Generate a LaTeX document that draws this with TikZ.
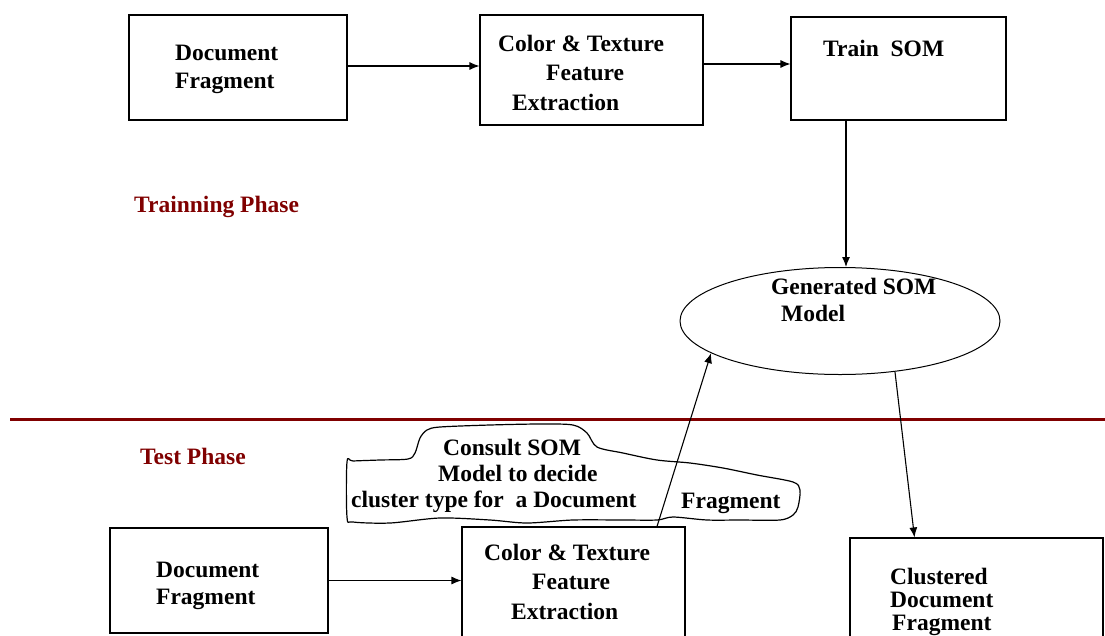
\documentclass[tikz,border=0pt]{standalone}
\usepackage{fontspec}
\setmainfont{Liberation Serif}
\usetikzlibrary{shapes.geometric,arrows.meta}
\definecolor{phasered}{RGB}{128,0,0}
\begin{document}
\begin{tikzpicture}[x=1pt,y=-1pt,
  box/.style={draw=black, line width=1.1pt, rectangle, inner sep=0pt},
  lbl/.style={font=\fontsize{23.5}{28}\selectfont\bfseries, anchor=base west, inner sep=0pt},
  phase/.style={lbl, text=phasered},
  arr/.style={line width=1.1pt, -{Latex[length=10pt,width=8pt]}}]
\useasboundingbox (0,0) rectangle (1105,635);
\clip (0,0) rectangle (1105,635);
\fill[white] (0,0) rectangle (1105,635);

% ---- training row ----
\node[box, minimum width=218, minimum height=105] (tdoc)  at (238,67.5) {};
\node[box, minimum width=223, minimum height=110] (tfeat) at (591.5,70) {};
\node[box, minimum width=215, minimum height=103] (tsom)  at (898.5,68.5) {};

\node[lbl] (tdoc1) at (175,60) {Document};
\node[lbl] (tdoc2) at (175,88) {Fragment};
\node[lbl] (tfeat1) at (498,51) {Color \& Texture};
\node[lbl] (tfeat2) at (546,80) {Feature};
\node[lbl] (tfeat3) at (512,110) {Extraction};
\node[lbl] (tsom1) at (823,56) {Train\ \ SOM};

% ---- model ----
\node[draw=black, line width=1pt, ellipse, inner sep=0pt,
      minimum width=320, minimum height=107] (ell) at (840,321) {};
\node[lbl] (ell1) at (771,294) {Generated SOM};
\node[lbl] (ell2) at (781,321) {Model};

% ---- phase labels and divider ----
\node[phase] (trainph) at (134,212) {Trainning Phase};
\node[phase] (testph) at (140,464) {Test Phase};
\coordinate (divL) at (10,419);
\coordinate (divR) at (1105,419);
\draw[phasered, line width=3pt] (divL) -- (divR);

% ---- test row ----
\node[box, minimum width=218, minimum height=105] (bdoc)  at (219,580.5) {};
\node[box, minimum width=223, minimum height=123] (bfeat) at (573.5,588.5) {};
\node[box, minimum width=253, minimum height=122] (clus)  at (976.5,599) {};

\node[lbl] (bdoc1) at (156,577) {Document};
\node[lbl] (bdoc2) at (156,604) {Fragment};
\node[lbl] (bfeat1) at (484,560) {Color \& Texture};
\node[lbl] (bfeat2) at (532,589) {Feature};
\node[lbl] (bfeat3) at (511,619) {Extraction};
\node[lbl] (clus1) at (890,584) {Clustered};
\node[lbl] (clus2) at (890,607) {Document};
\node[lbl] (clus3) at (892,630) {Fragment};

% ---- hand-drawn callout ----
\draw[line width=1.2pt, line join=round]
  plot[smooth cycle, tension=0.5] coordinates {
    (347,462) (347,517) (353,522) (390,523) (440,518) (490,520) (527,523)
    (573,520) (623,520) (657,520) (673,517) (707,520) (740,520) (780,520)
    (793,515) (798,507) (800,490) (793,482) (757,475) (723,468) (690,463)
    (657,460) (623,453) (597,447) (587,433) (573,425) (540,424) (490,425)
    (440,427) (427,430) (420,438) (415,453) (408,459) (380,460) (353,461)};
\node[lbl] (call1) at (443,455) {Consult SOM};
\node[lbl] (call2) at (438,481) {Model to decide};
\node[lbl] (call3) at (351,507) {cluster type for\ \ a Document};
\node[lbl] (call4) at (681,508) {Fragment};

% ---- connectors ----
\draw[arr] ([yshift=1.5pt]tdoc.east) -- ([yshift=1.5pt]tdoc.east -| tfeat.west);
\draw[arr] ([yshift=6pt]tfeat.east) -- ([yshift=6pt]tfeat.east -| tsom.west);
\draw[arr] ([xshift=-52.5pt]tsom.south) -- ([xshift=-52.5pt]tsom.south |- ell.north);
\draw[arr] (bdoc.east) -- (bdoc.east -| bfeat.west);
\draw[arr] ([xshift=83.5pt]bfeat.north) -- (ell.194);
\draw[arr] ([xshift=55pt,yshift=3pt]ell.south) -- ([xshift=-62pt]clus.north);
\end{tikzpicture}
\end{document}
